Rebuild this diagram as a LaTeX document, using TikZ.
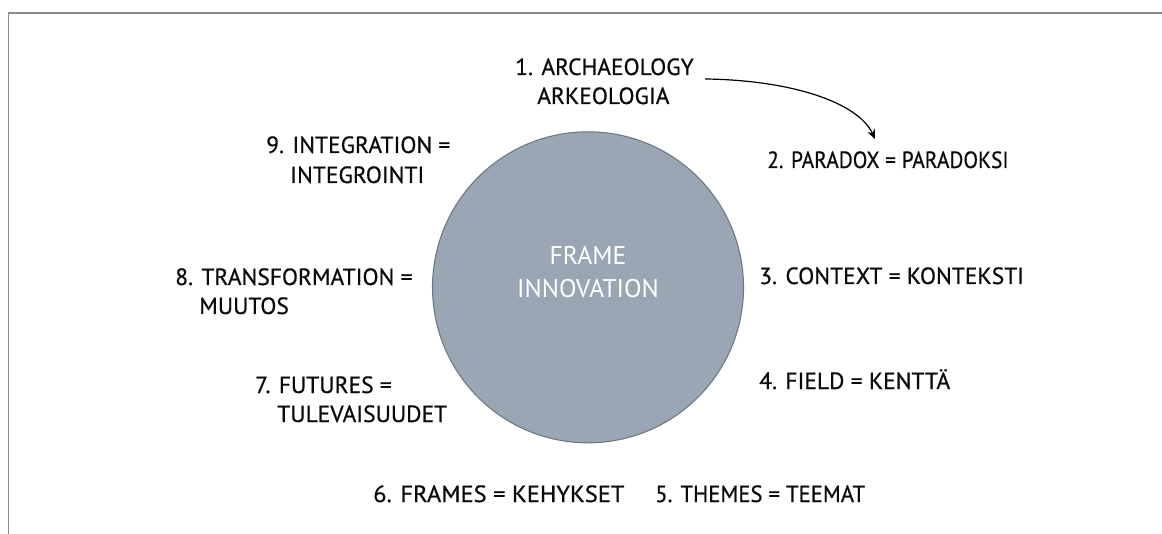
\documentclass[tikz,border=0pt]{standalone}
\usepackage{fontspec}
\usepackage{graphicx}
\setmainfont{PT Sans}
\newfontfamily\lblfont{PT Sans}[FakeBold=0.6]
\newfontfamily\hubfont{PT Sans}
\usetikzlibrary{arrows.meta}
\definecolor{circfill}{RGB}{154,166,180}
\definecolor{circline}{RGB}{110,118,128}
\definecolor{framegray}{RGB}{140,140,140}
\definecolor{txt}{RGB}{10,10,10}
\begin{document}
\begin{tikzpicture}[x=0.75pt,y=-0.75pt,
  lbl/.style={anchor=base west,inner sep=0pt,text=txt,font=\lblfont\fontsize{17.6}{21}\selectfont},
  ctr/.style={anchor=base,inner sep=0pt,text=white,font=\hubfont\fontsize{19.2}{23}\selectfont},
  hub/.style={circle,draw=circline,fill=circfill,line width=0.8pt,minimum size=311*0.75pt,inner sep=0pt},
  link/.style={-{Stealth[length=7pt,width=6pt]},line width=0.9pt,black}]
\useasboundingbox (0,0) rectangle (1162,534);
% frame lines
\coordinate (ftl) at (8.3,12.8);
\coordinate (ftr) at (1162,12.8);
\coordinate (fbl) at (8.3,534);
\draw[framegray,line width=1.1pt] (ftr) -- (ftl) -- (fbl);
% hub
\node[hub] (hub) at (588,287.3) {};
\node[ctr] (hubA) at (588,265) {FRAME};
\node[ctr] (hubB) at (588,297) {INNOVATION};
% labels
\node[lbl] (l1a) at (515,75) {1. ARCHAEOLOGY};
\node[lbl] (l1b) at (537,104) {ARKEOLOGIA};
\node[lbl] (l2) at (767,168) {\scalebox{0.91}[1]{2. PARADOX = PARADOKSI}};
\node[lbl] (l3) at (759,284) {3. CONTEXT = KONTEKSTI};
\node[lbl] (l4) at (759,389) {4. FIELD = KENTTÄ};
\node[lbl] (l5) at (655,502) {\scalebox{0.965}[1]{5. THEMES = TEEMAT}};
\node[lbl] (l6) at (373,502) {\scalebox{1.04}[1]{6. FRAMES = KEHYKSET}};
\node[lbl] (l7a) at (255,393) {7. FUTURES =};
\node[lbl] (l7b) at (277,422) {TULEVAISUUDET};
\node[lbl] (l8a) at (175,285) {8. TRANSFORMATION =};
\node[lbl] (l8b) at (199,314) {MUUTOS};
\node[lbl] (l9a) at (266,153) {9. INTEGRATION =};
\node[lbl] (l9b) at (290,183) {INTEGROINTI};
% arrow
\coordinate (as) at (705,79);
\coordinate (ae) at (875,139);
\draw[link] (as) .. controls (790,80) and (858,102) .. (ae);
\end{tikzpicture}
\end{document}
